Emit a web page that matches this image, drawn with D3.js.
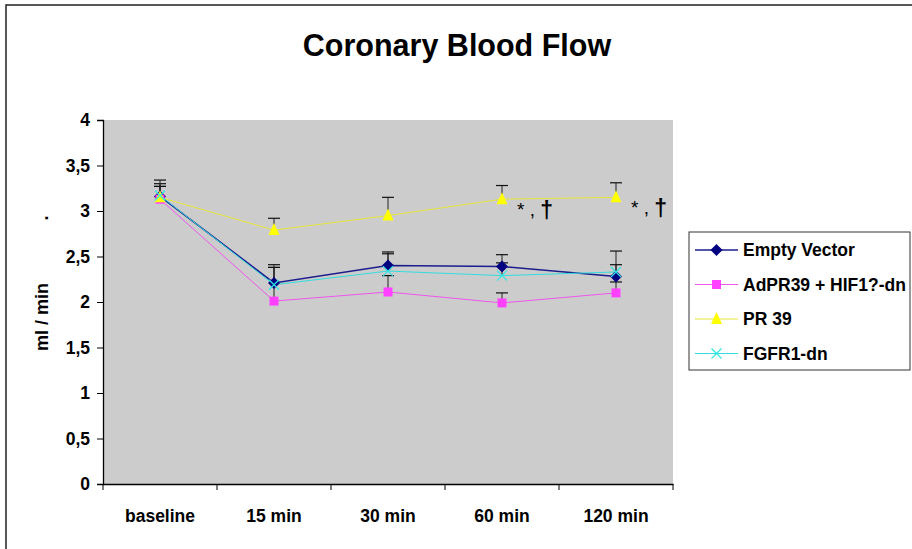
<!DOCTYPE html>
<html><head><meta charset="utf-8">
<script src="https://cdn.jsdelivr.net/npm/d3@7"></script>
<style>
html,body{margin:0;padding:0;background:#fff;}
text{font-family:Arial,"Liberation Sans",sans-serif;}
</style></head>
<body>
<svg id="chart" width="912" height="549"></svg>
<script>
const categories = ["baseline", "15 min", "30 min", "60 min", "120 min"];
const yTicks = [0, 0.5, 1, 1.5, 2, 2.5, 3, 3.5, 4];
const emptyVector = [3.16, 2.21, 2.40, 2.39, 2.28];
const emptyVectorErr = [0.14, 0.20, 0.15, 0.13, 0.28];
const adPR39 = [3.13, 2.01, 2.11, 1.99, 2.10];
const adPR39Err = [0.14, 0.37, 0.18, 0.11, 0.12];
const pr39 = [3.15, 2.79, 2.95, 3.13, 3.15];
const pr39Err = [0.19, 0.13, 0.20, 0.15, 0.16];
const fgfr1 = [3.17, 2.19, 2.34, 2.29, 2.33];
const fgfr1Err = [0.10, 0.19, 0.19, 0.14, 0.08];
const seriesNames = ["Empty Vector", "AdPR39 + HIF1?-dn", "PR 39", "FGFR1-dn"];
const annotationCats = ["60 min", "120 min"];
const annotationParts = ["*", " , ", "\u2020"];

const series = [
  {name: seriesNames[0], values: emptyVector, err: emptyVectorErr, line: "#1c1c8c", marker: "#000080", shape: "diamond", lw: 1.5},
  {name: seriesNames[1], values: adPR39, err: adPR39Err, line: "#ee55ee", marker: "#ff40ff", shape: "square", lw: 1},
  {name: seriesNames[2], values: pr39, err: pr39Err, line: "#e6e63c", marker: "#ffff00", shape: "triangle", lw: 1},
  {name: seriesNames[3], values: fgfr1, err: fgfr1Err, line: "#33dddd", marker: "#33e6e6", shape: "cross", lw: 1}
];

const svg = d3.select("#chart");
const pLeft = 103, pRight = 673, pTop = 120, pBottom = 484;
const FS = 17.5;

// outer border
svg.append("rect").attr("x", 6).attr("y", 5).attr("width", 920).attr("height", 560)
  .attr("fill", "none").attr("stroke", "#222").attr("stroke-width", 1.5);

// title
svg.append("text").attr("x", 457).attr("y", 56).attr("text-anchor", "middle")
  .attr("font-size", 30.5).attr("font-weight", "bold").attr("fill", "#000").text("Coronary Blood Flow");

const x = d3.scaleBand().domain(categories).range([pLeft, pRight]);
const y = d3.scaleLinear().domain([0, 4]).range([pBottom, pTop]);

// plot area
svg.append("rect").attr("x", pLeft).attr("y", pTop).attr("width", pRight - pLeft).attr("height", pBottom - pTop)
  .attr("fill", "#cccccc");

// y axis
const yAxis = svg.append("g").attr("transform", `translate(${pLeft},0)`)
  .call(d3.axisLeft(y).tickValues(yTicks).tickSize(6).tickPadding(7)
    .tickFormat(d => String(d).replace(".", ",")));
yAxis.select(".domain").attr("stroke", "#000").attr("stroke-width", 1.3);
yAxis.selectAll(".tick line").attr("stroke", "#000");
yAxis.selectAll(".tick text").attr("font-size", FS).attr("font-weight", "bold").attr("fill", "#000")
  .style("font-family", "Arial, 'Liberation Sans', sans-serif");

// x axis
const xAxis = svg.append("g").attr("transform", `translate(0,${pBottom})`)
  .call(d3.axisBottom(x).tickSize(0).tickPadding(26));
xAxis.select(".domain").attr("stroke", "#000").attr("stroke-width", 1.3);
xAxis.selectAll(".tick text").attr("font-size", FS).attr("font-weight", "bold").attr("fill", "#000")
  .style("font-family", "Arial, 'Liberation Sans', sans-serif");
// boundary ticks
const bounds = categories.map(c => x(c)).concat([x(categories[categories.length - 1]) + x.bandwidth()]);
svg.append("g").selectAll("line").data(bounds).join("line")
  .attr("x1", d => d).attr("x2", d => d).attr("y1", pBottom).attr("y2", pBottom + 6)
  .attr("stroke", "#000").attr("stroke-width", 1);

// y label
svg.append("text").attr("transform", "translate(48,317) rotate(-90)").attr("text-anchor", "middle")
  .attr("font-size", 18).attr("font-weight", "bold").attr("fill", "#000").text("ml / min");
svg.append("text").attr("transform", "translate(48,218) rotate(-90)").attr("text-anchor", "middle")
  .attr("font-size", 18).attr("font-weight", "bold").attr("fill", "#000").text(".");

const cx = c => x(c) + x.bandwidth() / 2;
const line = d3.line().x((d, i) => cx(categories[i])).y(d => y(d));

// lines
series.forEach(s => {
  svg.append("path").datum(s.values).attr("d", line).attr("fill", "none")
    .attr("stroke", s.line).attr("stroke-width", s.lw);
});

// error bars
series.forEach(s => {
  const g = svg.append("g");
  s.values.forEach((v, i) => {
    const px = cx(categories[i]);
    g.append("line").attr("x1", px).attr("x2", px).attr("y1", y(v)).attr("y2", y(v + s.err[i]))
      .attr("stroke", "#222").attr("stroke-width", 1);
    g.append("line").attr("x1", px - 6).attr("x2", px + 6).attr("y1", y(v + s.err[i])).attr("y2", y(v + s.err[i]))
      .attr("stroke", "#111").attr("stroke-width", 1.2);
  });
});

function drawMarker(g, shape, px, py, color) {
  if (shape === "diamond") {
    g.append("path").attr("d", `M${px},${py - 6}L${px + 6},${py}L${px},${py + 6}L${px - 6},${py}Z`).attr("fill", color);
  } else if (shape === "square") {
    g.append("rect").attr("x", px - 4.5).attr("y", py - 4.5).attr("width", 9).attr("height", 9).attr("fill", color);
  } else if (shape === "triangle") {
    g.append("path").attr("d", `M${px},${py - 7}L${px + 5.5},${py + 5}L${px - 5.5},${py + 5}Z`).attr("fill", color);
  } else {
    g.append("path").attr("d", `M${px - 5},${py - 5}L${px + 5},${py + 5}M${px + 5},${py - 5}L${px - 5},${py + 5}`)
      .attr("stroke", color).attr("stroke-width", 1.2).attr("fill", "none");
  }
}

// markers
series.forEach(s => {
  const g = svg.append("g");
  s.values.forEach((v, i) => drawMarker(g, s.shape, cx(categories[i]), y(v), s.marker));
});

// annotations
annotationCats.forEach(c => {
  const i = categories.indexOf(c);
  const t = svg.append("text").attr("x", cx(c) + 15).attr("y", y(pr39[i]) + 17).attr("fill", "#000");
  t.append("tspan").attr("font-size", 19).text(annotationParts[0]);
  t.append("tspan").attr("font-size", 19).text(annotationParts[1]);
  t.append("tspan").attr("font-size", 23).attr("font-weight", "bold").attr("dy", 2).text(annotationParts[2]);
});

// legend
const lg = svg.append("g");
lg.append("rect").attr("x", 689).attr("y", 232).attr("width", 221).attr("height", 138)
  .attr("fill", "#fff").attr("stroke", "#333").attr("stroke-width", 1);
series.forEach((s, i) => {
  const ly = 250 + i * 34.5;
  lg.append("line").attr("x1", 695).attr("x2", 738).attr("y1", ly).attr("y2", ly)
    .attr("stroke", s.line).attr("stroke-width", s.lw);
  drawMarker(lg, s.shape, 716.5, ly, s.marker);
  lg.append("text").attr("x", 743).attr("y", ly + 6).attr("font-size", FS).attr("font-weight", "bold")
    .attr("fill", "#000").text(s.name);
});
</script>
</body></html>
